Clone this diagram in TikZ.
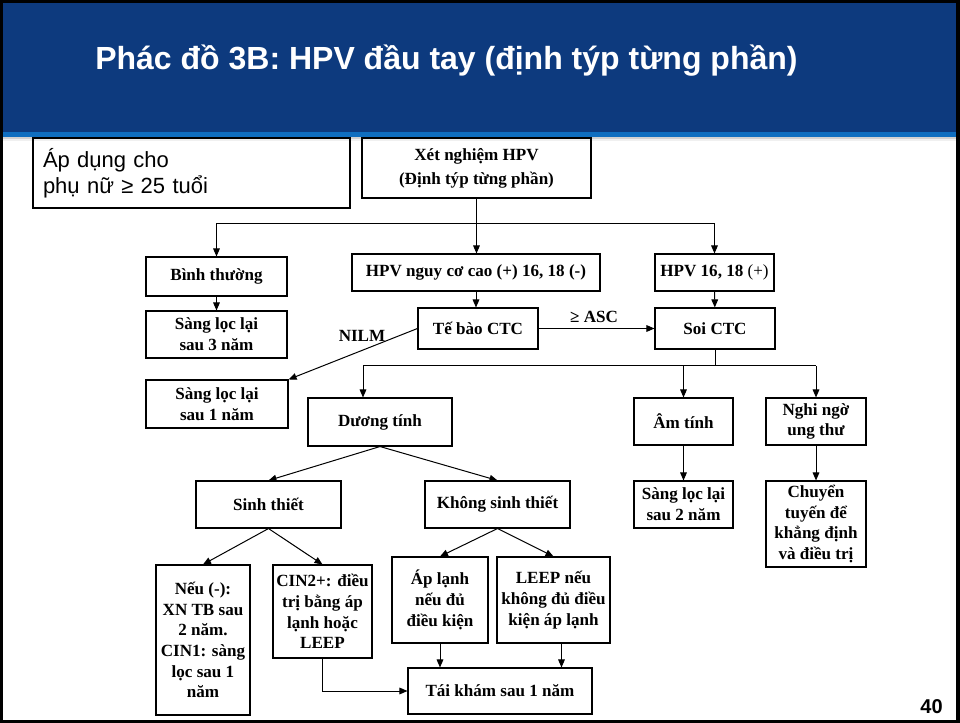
\documentclass[tikz,border=0pt]{standalone}
\usepackage{fontspec}
\setmainfont{Liberation Serif}
\newfontfamily\sansfam{Liberation Sans}
\usetikzlibrary{arrows.meta}
\definecolor{bandblue}{HTML}{0D3A7E}
\definecolor{stripeblue}{HTML}{0F6EC0}
\begin{document}
\begin{tikzpicture}[x=0.75pt,y=-0.75pt,
  bx/.style={draw, line width=0.8pt, align=center, inner sep=0pt,
    font=\bfseries\fontsize{12.8}{15.5}\selectfont},
  arr/.style={-{Triangle[length=6pt,width=5pt]}, line width=0.75pt},
  ln/.style={line width=0.75pt},
  lbl/.style={inner sep=0pt, font=\bfseries\fontsize{12.8}{15.5}\selectfont}]
\useasboundingbox (0,0) rectangle (960,723);
% slide frame and title band
\fill[black] (0,0) rectangle (960,723);
\fill[white] (3,3) rectangle (956,720);
\fill[bandblue] (3,3) rectangle (956,132);
\fill[stripeblue] (3,132) rectangle (956,137);
\fill[gray!35] (3,137) rectangle (956,139);
\fill[gray!12] (3,139) rectangle (956,141);
\node[anchor=base west, inner sep=0pt, text=white,
  font=\sansfam\bfseries\fontsize{24}{28}\selectfont] (title) at (95,70)
  {Phác đồ 3B: HPV đầu tay (định týp từng phần)};
\node[anchor=base east, inner sep=0pt,
  font=\sansfam\bfseries\fontsize{15}{18}\selectfont] (pageno) at (943,713) {40};

% boxes
\node[draw, line width=1.1pt, text width=222.75pt, inner xsep=7.5pt, inner ysep=0pt,
  minimum height=52.5pt, align=left,
  font=\sansfam\fontsize{16.5}{19.5}\selectfont] (apply) at (191.5,173)
  {Áp dụng cho\\phụ nữ ≥ 25 tuổi};
\node[bx, minimum width=171.75pt, minimum height=45pt,
  font=\bfseries\fontsize{12.8}{18}\selectfont] (xn) at (476.5,168)
  {Xét nghiệm HPV\\(Định týp từng phần)};
\node[bx, minimum width=105.75pt, minimum height=29.25pt] (bt) at (216.5,276.5) {Bình thường};
\node[bx, minimum width=186pt, minimum height=27.75pt] (hr) at (476,272.5) {HPV nguy cơ cao (+) 16, 18 (-)};
\node[bx, minimum width=89.25pt, minimum height=27.75pt] (h16) at (714.5,272.5) {HPV 16, 18 {\mdseries(+)}};
\node[bx, minimum width=105.75pt, minimum height=35.25pt] (s3) at (216.5,334.5) {Sàng lọc lại\\sau 3 năm};
\node[bx, minimum width=90pt, minimum height=30.75pt] (tb) at (478,328.5) {Tế bào CTC};
\node[bx, minimum width=90pt, minimum height=30.75pt] (soi) at (715,328.5) {Soi CTC};
\node[bx, minimum width=106.5pt, minimum height=36pt] (s1) at (217,404) {Sàng lọc lại\\sau 1 năm};
\node[bx, minimum width=108pt, minimum height=36pt] (dt) at (380,422) {Dương tính};
\node[bx, minimum width=74.25pt, minimum height=35.25pt] (am) at (683.5,421.5) {Âm tính};
\node[bx, minimum width=75pt, minimum height=35.25pt] (ng) at (816,421.5) {Nghi ngờ\\ung thư};
\node[bx, minimum width=108.75pt, minimum height=35.25pt] (st) at (268.5,504.5) {Sinh thiết};
\node[bx, minimum width=108.75pt, minimum height=35.25pt] (kst) at (497.5,504.5) {Không sinh thiết};
\node[bx, minimum width=74.25pt, minimum height=35.25pt] (s2) at (683.5,504.5) {Sàng lọc lại\\sau 2 năm};
\node[bx, minimum width=75pt, minimum height=64.5pt] (ct) at (816,524) {Chuyển\\tuyến để\\khẳng định\\và điều trị};
\node[bx, minimum width=70.5pt, minimum height=112.5pt] (neu) at (203,640) {Nếu (-):\\XN TB sau\\2 năm.\\CIN1: sàng\\lọc sau 1\\năm};
\node[bx, minimum width=74.25pt, minimum height=69.75pt] (cin) at (322.5,611.5) {CIN2+: điều\\trị bằng áp\\lạnh hoặc\\LEEP};
\node[bx, minimum width=72pt, minimum height=64.5pt] (al) at (440,600) {Áp lạnh\\nếu đủ\\điều kiện};
\node[bx, minimum width=84.75pt, minimum height=64.5pt] (leep) at (553.5,600) {LEEP nếu\\không đủ điều\\kiện áp lạnh};
\node[bx, minimum width=138pt, minimum height=34.5pt] (tk) at (500,691) {Tái khám sau 1 năm};

% branch points
\coordinate (j1) at (476.5,224);
\coordinate (j2) at (715,366);
\coordinate (jL) at (363,366);

% connectors
\draw[ln] (xn.south) -- (j1);
\draw[arr] (j1) -| (bt.north);
\draw[arr] (j1) -- (j1 |- hr.north);
\draw[arr] (j1) -| (h16.north);
\draw[arr] (bt) -- (s3);
\draw[arr] (hr.south) -- (hr.south |- tb.north);
\draw[arr] (h16) -- (soi);
\draw[arr] (tb) -- (soi);
\node[lbl] (asc) at (594,317) {≥ ASC};
\draw[arr] (tb.west) -- (s1.north east);
\node[lbl] (nilm) at (362,335.5) {NILM};
\draw[ln] (soi.south) -- (j2);
\draw[ln] (jL) -- (j2 -| ng.north);
\draw[arr] (jL) -- (jL |- dt.north);
\draw[arr] (j2 -| am.north) -- (am.north);
\draw[arr] (j2 -| ng.north) -- (ng.north);
\draw[arr] (dt.south) -- (st.north);
\draw[arr] (dt.south) -- (kst.north);
\draw[arr] (am) -- (s2);
\draw[arr] (ng) -- (ct);
\draw[arr] (st.south) -- (neu.north);
\draw[arr] (st.south) -- (cin.north);
\draw[arr] (kst.south) -- (al.north);
\draw[arr] (kst.south) -- (leep.north);
\draw[arr] (al.south) -- (al.south |- tk.north);
\draw[arr] ([xshift=6pt]leep.south) -- ([xshift=6pt]leep.south |- tk.north);
\draw[arr] (cin.south) |- (tk.west);
\end{tikzpicture}
\end{document}
